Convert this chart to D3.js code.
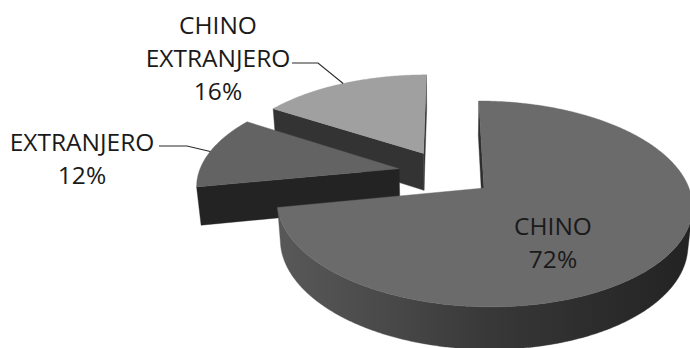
<!DOCTYPE html>
<html>
<head>
<meta charset="utf-8">
<script src="https://cdn.jsdelivr.net/npm/d3@7/dist/d3.min.js"></script>
<style>
  html, body { margin: 0; padding: 0; background: #ffffff; }
  svg { display: block; }
  text { font-family: "Open Sans", "Noto Sans", sans-serif; fill: #1a1a1a; }
</style>
</head>
<body>
<div id="chart"></div>
<script>
// Share of origin, exploded 3-D pie
const categories = ["CHINO", "EXTRANJERO", "CHINO EXTRANJERO"];
const values = [72, 12, 16];
const labelLines = [["CHINO"], ["EXTRANJERO"], ["CHINO", "EXTRANJERO"]];

const topColors = ["#6b6b6b", "#636363", "#a0a0a0"];
const cutColors = ["#2e2e2e", "#232323", "#333333"];

const W = 690, H = 348;
const svg = d3.select("#chart").append("svg")
  .attr("width", W).attr("height", H);

// Camera set-up: pie lies in a plane, seen from above with perspective
const view = { cx: 446, cy: 173, focal: 1166, dist: 5.82, tilt: 28.6 * Math.PI / 180 };
const depth = 0.218;     // slab thickness (radius = 1)
const explode = 0.24;    // radial offset of every slice
const cosA = Math.cos(view.tilt), sinA = Math.sin(view.tilt);

// world (u: right, v: toward viewer, h: up) -> screen
function project(u, v, h) {
  const zc = view.dist - (v * cosA + h * sinA);
  const yc = h * cosA - v * sinA;
  return [view.cx + view.focal * u / zc, view.cy - view.focal * yc / zc];
}
const depthOf = (u, v, h) => view.dist - (v * cosA + h * sinA);
const cam = [0, view.dist * cosA, view.dist * sinA];

const pie = d3.pie().sort(null).startAngle(0).endAngle(2 * Math.PI);
const arcs = pie(values);

const line = d3.line();

// side gradient (lit from the left)
const defs = svg.append("defs");
const grad = defs.append("linearGradient").attr("id", "sideGrad")
  .attr("gradientUnits", "userSpaceOnUse")
  .attr("x1", 190).attr("y1", 0).attr("x2", 690).attr("y2", 0);
[[0, "#5e5e5e"], [0.2, "#575757"], [0.42, "#474747"], [0.6, "#383838"], [0.8, "#2d2d2d"], [1, "#232323"]]
  .forEach(([o, c]) => grad.append("stop").attr("offset", o).attr("stop-color", c));

const slices = arcs.map((a, i) => {
  const mid = (a.startAngle + a.endAngle) / 2;
  const ou = explode * Math.sin(mid), ov = -explode * Math.cos(mid);
  const rimUV = t => [ou + Math.sin(t), ov - Math.cos(t)];
  return { a, i, mid, ou, ov, rimUV, z: depthOf(ou, ov, 0) };
});

// farthest slice first
slices.sort((p, q) => q.z - p.z);

const g = svg.append("g");

slices.forEach(s => {
  const { a, i, ou, ov, rimUV } = s;
  const steps = Math.max(8, Math.ceil((a.endAngle - a.startAngle) / (Math.PI / 360)));
  const thetas = d3.range(steps + 1).map(k => a.startAngle + (a.endAngle - a.startAngle) * k / steps);
  const grp = g.append("g").attr("class", "slice").attr("data-name", categories[i]);

  const facing = (pu, pv, ph, nu, nv) =>
    (cam[0] - pu) * nu + (cam[1] - pv) * nv > 0;

  // radial cut faces
  [[a.startAngle, -1], [a.endAngle, 1]].forEach(([t, sgn]) => {
    const nu = sgn * Math.cos(t), nv = sgn * Math.sin(t);
    if (!facing(ou, ov, 0, nu, nv)) return;
    const [ru, rv] = rimUV(t);
    const pts = [project(ou, ov, 0), project(ru, rv, 0), project(ru, rv, -depth), project(ou, ov, -depth)];
    grp.append("path").attr("d", line(pts) + "Z").attr("fill", cutColors[i])
      .attr("stroke", cutColors[i]).attr("stroke-width", 0.4);
  });

  // curved outer wall, only the part turned toward the camera
  let run = [];
  const runs = [];
  thetas.forEach(t => {
    const [ru, rv] = rimUV(t);
    if (facing(ru, rv, 0, Math.sin(t), -Math.cos(t))) run.push(t);
    else if (run.length) { runs.push(run); run = []; }
  });
  if (run.length) runs.push(run);
  runs.forEach(r => {
    if (r.length < 2) return;
    const topPts = r.map(t => { const [u, v] = rimUV(t); return project(u, v, 0); });
    const botPts = r.slice().reverse().map(t => { const [u, v] = rimUV(t); return project(u, v, -depth); });
    grp.append("path").attr("d", line(topPts.concat(botPts)) + "Z")
      .attr("fill", "url(#sideGrad)").attr("stroke", "url(#sideGrad)").attr("stroke-width", 0.4);
  });

  // top face
  const topPts = [project(ou, ov, 0)].concat(thetas.map(t => { const [u, v] = rimUV(t); return project(u, v, 0); }));
  grp.append("path").attr("d", line(topPts) + "Z").attr("fill", topColors[i])
    .attr("stroke", topColors[i]).attr("stroke-width", 0.4);
});

// data labels
const fontSize = 24.5, lineGap = 33;
const labelLayout = [
  { x: 553, y: 226, inside: true },
  { x: 82, y: 142, elbow: [159, 146], knee: [187, 146] },
  { x: 218, y: 25, elbow: [292, 63], knee: [318, 63] }
];
const labels = svg.append("g").attr("class", "labels");
arcs.forEach((a, i) => {
  const L = labelLayout[i];
  const lines = labelLines[i].concat([values[i] + "%"]);
  const t = labels.append("text").attr("text-anchor", "middle").style("font-size", fontSize + "px");
  lines.forEach((txt, k) => {
    t.append("tspan").attr("x", L.x).attr("y", L.y + k * lineGap + 8.5).text(txt);
  });
  if (!L.inside) {
    const s = slices.find(d => d.i === i);
    const [u, v] = s.rimUV(s.mid);
    const end = project(u, v, 0);
    labels.append("path")
      .attr("d", line([L.elbow, L.knee, end]))
      .attr("fill", "none").attr("stroke", "#2a2a2a").attr("stroke-width", 1.1);
  }
});
</script>
</body>
</html>
